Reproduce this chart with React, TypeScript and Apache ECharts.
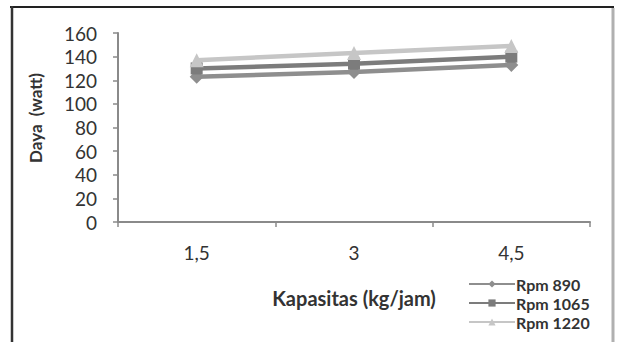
import React, { useEffect, useRef } from "react";
import * as echarts from "echarts";

const categories = ["1,5", "3", "4,5"];
const rpm890 = [123, 127, 133];
const rpm1065 = [130, 134, 140];
const rpm1220 = [137, 143, 149];
const seriesNames = ["Rpm 890", "Rpm 1065", "Rpm 1220"];
const yTicks = { min: 0, max: 160, interval: 20 };
const yAxisTitle = "Daya  (watt)";
const xAxisTitle = "Kapasitas (kg/jam)";

const FONT = "Lato, 'Open Sans', sans-serif";

export default function App() {
  const ref = useRef<HTMLDivElement>(null);
  useEffect(() => {
    if (!ref.current) return;
    const chart = echarts.init(ref.current, undefined, { renderer: "svg" });
    const mk = (name: string, data: number[], color: string, symbol: string, size: number) => ({
      name,
      type: "line",
      data,
      symbol,
      symbolSize: size,
      lineStyle: { color, width: 4.5 },
      itemStyle: { color },
      emphasis: { disabled: true },
    });
    chart.setOption({
      animation: false,
      backgroundColor: "#ffffff",
      textStyle: { fontFamily: FONT },
      grid: { left: 118, right: 27, top: 33, bottom: 120, containLabel: false },
      xAxis: {
        type: "category",
        data: categories,
        boundaryGap: true,
        name: xAxisTitle,
        nameLocation: "middle",
        nameGap: 66,
        nameTextStyle: { fontSize: 20, fontWeight: "bold", color: "#333", fontFamily: FONT },
        axisLine: { lineStyle: { color: "#8a8a8a", width: 2 } },
        axisTick: { show: true, inside: false, length: 5, alignWithLabel: false, lineStyle: { color: "#8a8a8a", width: 1.5 } },
        axisLabel: { fontSize: 19, color: "#333", margin: 21, fontFamily: FONT },
        splitLine: { show: false },
      },
      yAxis: {
        type: "value",
        min: yTicks.min,
        max: yTicks.max,
        interval: yTicks.interval,
        axisLine: { show: true, lineStyle: { color: "#8a8a8a", width: 2 } },
        axisTick: { show: true, length: 5, lineStyle: { color: "#8a8a8a", width: 1.5 } },
        axisLabel: { fontSize: 19, color: "#333", margin: 21, fontFamily: FONT },
        splitLine: { show: false },
      },
      legend: {
        orient: "vertical",
        left: 463,
        top: 271,
        itemWidth: 46,
        itemHeight: 9,
        itemGap: 3,
        data: seriesNames,
        textStyle: { fontSize: 16, fontWeight: "bold", color: "#333", fontFamily: FONT, padding: [0, 0, 0, -4] },
      },
      series: [
        mk(seriesNames[0], rpm890, "#8e8e8e", "diamond", 14),
        mk(seriesNames[1], rpm1065, "#7c7c7c", "rect", 12),
        mk(seriesNames[2], rpm1220, "#c6c6c6", "triangle", 14),
      ],
      graphic: [
        {
          type: "text",
          x: 35,
          y: 118,
          rotation: Math.PI / 2,
          style: {
            text: yAxisTitle,
            fontSize: 17,
            fontWeight: "bold",
            fill: "#333",
            fontFamily: FONT,
            align: "center",
            verticalAlign: "middle",
          },
        },
        { type: "line", shape: { x1: 10, y1: 7, x2: 614, y2: 7 }, style: { stroke: "#222", lineWidth: 2 } },
        { type: "line", shape: { x1: 12, y1: 6, x2: 12, y2: 342 }, style: { stroke: "#333", lineWidth: 2.5 } },
        { type: "line", shape: { x1: 613, y1: 8, x2: 613, y2: 342 }, style: { stroke: "#b0b0b0", lineWidth: 3 } },
      ],
    });
    return () => chart.dispose();
  }, []);
  return (
    <div
      ref={ref}
      style={{ position: "fixed", left: 0, top: 0, width: 617, height: 342 }}
    />
  );
}
